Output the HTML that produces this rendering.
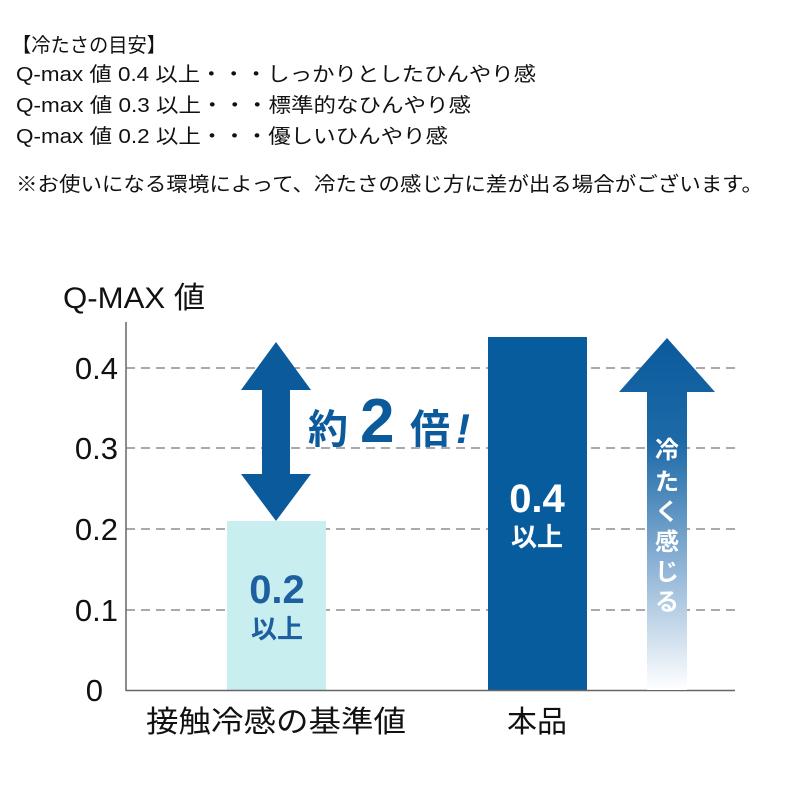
<!DOCTYPE html>
<html><head><meta charset="utf-8"><style>
html,body{margin:0;padding:0;background:#fff;}
svg{display:block;}
text{font-family:"Liberation Sans","Noto Sans CJK JP",sans-serif;}
</style></head><body>
<svg width="800" height="800" viewBox="0 0 800 800" xmlns="http://www.w3.org/2000/svg">
<defs>
<linearGradient id="g" x1="0" y1="0" x2="0" y2="1">
<stop offset="0" stop-color="#0a5a9c"/>
<stop offset="0.3" stop-color="#1e6aa8"/>
<stop offset="0.65" stop-color="#8fb4d6"/>
<stop offset="1" stop-color="#ffffff"/>
</linearGradient>
</defs>
<g fill="#111" font-size="20">
<text x="12" y="52" textLength="154" lengthAdjust="spacingAndGlyphs">【冷たさの目安】</text>
<text x="16" y="81" textLength="520" lengthAdjust="spacingAndGlyphs">Q-max 値 0.4 以上・・・しっかりとしたひんやり感</text>
<text x="16" y="112" textLength="455" lengthAdjust="spacingAndGlyphs">Q-max 値 0.3 以上・・・標準的なひんやり感</text>
<text x="16" y="143" textLength="432" lengthAdjust="spacingAndGlyphs">Q-max 値 0.2 以上・・・優しいひんやり感</text>
<text x="16" y="191" textLength="747" lengthAdjust="spacingAndGlyphs">※お使いになる環境によって、冷たさの感じ方に差が出る場合がございます。</text>
</g>
<text x="63" y="308" font-size="30" fill="#111" textLength="142" lengthAdjust="spacingAndGlyphs">Q-MAX 値</text>
<g stroke="#555" stroke-width="1" stroke-dasharray="9,6">
<line x1="126" y1="368" x2="735" y2="368"/>
<line x1="126" y1="448" x2="735" y2="448"/>
<line x1="126" y1="529" x2="735" y2="529"/>
<line x1="126" y1="610" x2="735" y2="610"/>
</g>
<g font-size="31" fill="#111" text-anchor="end">
<text x="118" y="379">0.4</text>
<text x="118" y="459">0.3</text>
<text x="118" y="540">0.2</text>
<text x="118" y="621">0.1</text>
<text x="103" y="701">0</text>
</g>
<rect x="227" y="521" width="99" height="169" fill="#c9eeef"/>
<rect x="488" y="337" width="99" height="353" fill="#075c9e"/>
<line x1="126" y1="322" x2="126" y2="691" stroke="#666" stroke-width="1.5"/>
<line x1="126" y1="690.5" x2="735" y2="690.5" stroke="#666" stroke-width="1.5"/>
<polygon points="276,342 311,390 290,390 290,474 311,474 276,521 241,474 262,474 262,390 241,390" fill="#0a5a9c"/>
<text x="308" y="443" font-size="40" font-weight="bold" fill="#0a5a9c">約</text>
<text x="360" y="442" font-size="62" font-weight="bold" fill="#0a5a9c">2</text>
<text x="410" y="443" font-size="40" font-weight="bold" fill="#0a5a9c">倍</text>
<text x="456" y="443" font-size="42" font-weight="bold" font-style="italic" fill="#0a5a9c">!</text>
<polygon points="667,338 715,392 687,392 687,690 647,690 647,392 619,392" fill="url(#g)"/>
<g font-size="24" font-weight="bold" fill="#fff" text-anchor="middle">
<text x="667" y="458">冷</text>
<text x="667" y="490">た</text>
<text x="667" y="520">く</text>
<text x="667" y="550">感</text>
<text x="667" y="580">じ</text>
<text x="667" y="610">る</text>
</g>
<text x="537" y="512" font-size="40" font-weight="bold" fill="#fff" text-anchor="middle">0.4</text>
<text x="537" y="546" font-size="26" font-weight="bold" fill="#fff" text-anchor="middle">以上</text>
<text x="277" y="603" font-size="40" font-weight="bold" fill="#1d5fa0" text-anchor="middle">0.2</text>
<text x="277" y="638" font-size="26" font-weight="bold" fill="#1d5fa0" text-anchor="middle">以上</text>
<text x="146" y="732" font-size="30" fill="#111" textLength="260" lengthAdjust="spacingAndGlyphs">接触冷感の基準値</text>
<text x="537" y="732" font-size="30" fill="#111" text-anchor="middle">本品</text>
</svg>
</body></html>
